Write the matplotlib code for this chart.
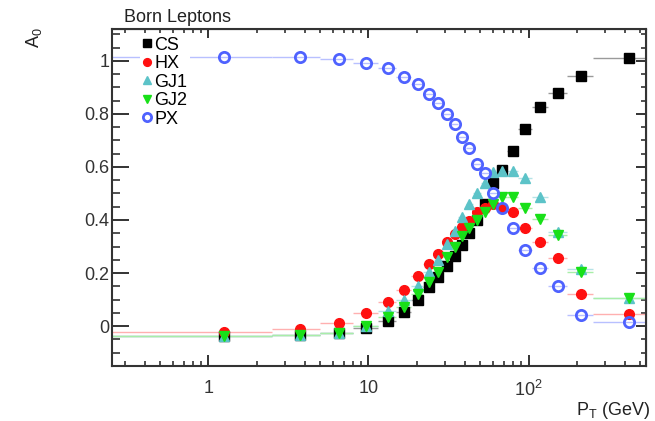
import matplotlib
matplotlib.use('Agg')
import matplotlib.pyplot as plt
import numpy as np
from matplotlib.ticker import FixedLocator, MultipleLocator, LogLocator, NullFormatter

plt.rcParams['font.family'] = ['Liberation Sans', 'DejaVu Sans']
plt.rcParams['mathtext.default'] = 'regular'

# pT bin edges (GeV)
ptEdges = [0, 2.5, 5.0, 8.0, 11.4, 14.9, 18.5, 22.0, 25.5, 29.0, 32.6, 36.4,
           40.4, 44.9, 50.2, 56.4, 63.9, 73.4, 85.4, 105.0, 132.0, 173.0,
           253.0, 600.0]

# A0 per frame
a0CS = [-0.038, -0.034, -0.026, -0.008, 0.019, 0.053, 0.100, 0.147, 0.184,
        0.226, 0.263, 0.305, 0.350, 0.400, 0.459, 0.538, 0.590, 0.662, 0.744,
        0.827, 0.880, 0.944, 1.011]
a0HX = [-0.023, -0.011, 0.011, 0.050, 0.090, 0.135, 0.188, 0.233, 0.271,
        0.316, 0.346, 0.372, 0.398, 0.429, 0.444, 0.459, 0.447, 0.429, 0.368,
        0.316, 0.256, 0.120, 0.045]
a0GJ1 = [-0.038, -0.034, -0.026, 0.000, 0.056, 0.100, 0.150, 0.203, 0.250,
         0.310, 0.360, 0.410, 0.460, 0.500, 0.540, 0.580, 0.585, 0.585, 0.560,
         0.485, 0.355, 0.215, 0.105]
a0GJ2 = [-0.038, -0.034, -0.026, 0.000, 0.034, 0.071, 0.120, 0.165, 0.203,
         0.260, 0.300, 0.340, 0.370, 0.400, 0.430, 0.460, 0.485, 0.485, 0.447,
         0.402, 0.342, 0.203, 0.105]
a0PX = [1.015, 1.015, 1.008, 0.993, 0.974, 0.940, 0.914, 0.876, 0.842, 0.801,
        0.763, 0.714, 0.673, 0.613, 0.579, 0.500, 0.444, 0.368, 0.286, 0.218,
        0.150, 0.041, 0.015]

edges = np.array(ptEdges)
centers = 0.5 * (edges[:-1] + edges[1:])
xerr = [centers - edges[:-1], edges[1:] - centers]

series = [
    ('CS', a0CS, 's', 'black', '#9a9a9a', True),
    ('HX', a0HX, 'o', '#ff1010', '#ffb0b0', True),
    ('GJ1', a0GJ1, '^', '#5cc3c8', '#b5e3e6', True),
    ('GJ2', a0GJ2, 'v', '#18e018', '#a8eea8', True),
    ('PX', a0PX, 'o', '#4f62ff', '#b8c0ff', False),
]
msize = {'s': 6.5, 'o': 7.0, '^': 6.6, 'v': 6.6}
fs = 13

fig = plt.figure(figsize=(6.55, 4.21), dpi=100)
ax = fig.add_axes([0.171, 0.131, 0.815, 0.800])

handles = []
for name, vals, mk, col, barcol, filled in series:
    ax.errorbar(centers, vals, xerr=xerr, fmt='none', ecolor=barcol,
                elinewidth=1.0, capsize=0, zorder=1)
for name, vals, mk, col, barcol, filled in series:
    if filled:
        h, = ax.plot(centers, vals, linestyle='none', marker=mk,
                     markersize=msize[mk], color=col, mec=col, label=name,
                     zorder=3)
    else:
        h, = ax.plot(centers, vals, linestyle='none', marker=mk,
                     markersize=7.4, mfc='none', mec=col, mew=2.0,
                     label=name, zorder=3)
    handles.append(h)

ax.set_xscale('log')
ax.set_xlim(0.25, 540)
ax.set_ylim(-0.15, 1.12)

ax.xaxis.set_major_locator(FixedLocator([1, 10, 100]))
ax.set_xticklabels(['1', '10', '$10^2$'])
ax.xaxis.set_minor_locator(LogLocator(base=10, subs=np.arange(2, 10)))
ax.xaxis.set_minor_formatter(NullFormatter())
ax.yaxis.set_major_locator(FixedLocator([0, 0.2, 0.4, 0.6, 0.8, 1.0]))
ax.set_yticklabels(['0', '0.2', '0.4', '0.6', '0.8', '1'])
ax.yaxis.set_minor_locator(MultipleLocator(0.05))

for s in ax.spines.values():
    s.set_linewidth(1.5)
    s.set_color('#333333')

ax.tick_params(axis='y', which='major', direction='in', length=12, width=1.4,
               labelsize=fs, pad=2, colors='#333333')
ax.tick_params(axis='y', which='minor', direction='in', length=6, width=1.2,
               colors='#333333')
ax.tick_params(axis='x', which='major', direction='in', length=8, width=1.4,
               labelsize=fs, pad=10, colors='#333333')
ax.tick_params(axis='x', which='minor', direction='in', length=3.5, width=1.2,
               colors='#333333')

secY = ax.secondary_yaxis('right')
secY.yaxis.set_major_locator(FixedLocator([0, 0.2, 0.4, 0.6, 0.8, 1.0]))
secY.yaxis.set_minor_locator(MultipleLocator(0.05))
secY.yaxis.set_major_formatter(NullFormatter())
secY.tick_params(which='major', direction='in', length=7, width=1.4, colors='#333333')
secY.tick_params(which='minor', direction='in', length=3.5, width=1.2, colors='#333333')

secX = ax.secondary_xaxis('top')
secX.xaxis.set_major_locator(FixedLocator([1, 10, 100]))
secX.xaxis.set_minor_locator(LogLocator(base=10, subs=np.arange(2, 10)))
secX.xaxis.set_major_formatter(NullFormatter())
secX.xaxis.set_minor_formatter(NullFormatter())
secX.tick_params(which='major', direction='in', length=6.5, width=1.4, colors='#333333')
secX.tick_params(which='minor', direction='in', length=3, width=1.2, colors='#333333')

leg = ax.legend(handles=handles, loc='upper left', bbox_to_anchor=(0.052, 0.985),
                frameon=True, fancybox=False, edgecolor='none', facecolor='white',
                framealpha=1.0, fontsize=fs, handlelength=0.5, handletextpad=0.15,
                labelspacing=0.08, borderpad=0.15, borderaxespad=0,
                markerscale=0.8)
leg.set_zorder(5)

fig.text(0.19, 0.958, 'Born Leptons', fontsize=fs, ha='left', va='center',
         color='#222222')
fig.text(0.052, 0.935, 'A$_0$', fontsize=fs, rotation=90, ha='center', va='top',
         color='#222222')
fig.text(0.993, 0.024, 'P$_T$ (GeV)', fontsize=fs, ha='right', va='center',
         color='#222222')

fig.savefig('out.png', dpi=100)
